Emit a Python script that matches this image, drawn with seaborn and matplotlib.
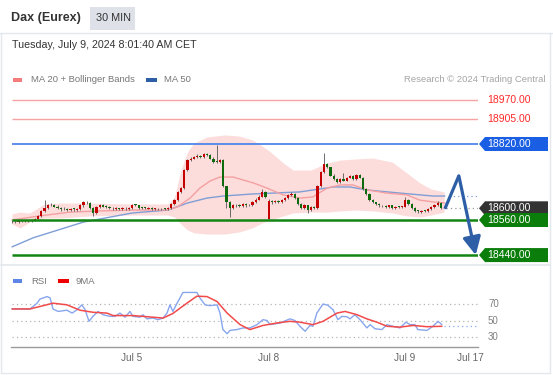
import matplotlib
matplotlib.use("Agg")
import matplotlib.pyplot as plt
from matplotlib.patches import Polygon, Rectangle
import numpy as np
import seaborn as sns

# ---- 30 min candles, left to right ----
opens = [18555, 18556, 18554, 18557, 18555, 18558, 18557, 18560, 18565, 18572,
         18590, 18600, 18610, 18612, 18606, 18600, 18596, 18598, 18594, 18597,
         18595, 18598, 18610, 18620, 18618, 18600, 18585, 18605, 18612, 18606,
         18604, 18600, 18598, 18599, 18597, 18600, 18598, 18601, 18612, 18610,
         18602, 18601, 18599, 18600, 18597, 18599, 18596, 18598, 18597, 18600,
         18615, 18628, 18655, 18668, 18730, 18765, 18770, 18775, 18780, 18776,
         18785, 18782, 18770, 18760, 18758, 18765, 18675, 18620, 18600, 18610,
         18612, 18607, 18615, 18610, 18612, 18620, 18630, 18640, 18655, 18562,
         18625, 18620, 18625, 18622, 18628, 18635, 18645, 18650, 18635, 18615,
         18600, 18610, 18595, 18605, 18600, 18675, 18725, 18752, 18740, 18712,
         18700, 18690, 18700, 18695, 18705, 18710, 18700, 18715, 18705, 18665,
         18650, 18630, 18620, 18615, 18610, 18608, 18604, 18610, 18600, 18606,
         18604, 18606, 18630, 18615, 18600, 18590, 18588, 18592, 18590, 18598,
         18605, 18612, 18618]
closes = [18556, 18554, 18557, 18555, 18558, 18557, 18560, 18565, 18572, 18590,
          18600, 18610, 18612, 18606, 18600, 18596, 18598, 18594, 18597, 18595,
          18598, 18610, 18620, 18618, 18600, 18585, 18605, 18612, 18606, 18604,
          18600, 18598, 18599, 18597, 18600, 18598, 18601, 18612, 18610, 18602,
          18601, 18599, 18600, 18597, 18599, 18596, 18598, 18597, 18600, 18615,
          18628, 18655, 18668, 18730, 18765, 18770, 18775, 18780, 18776, 18785,
          18782, 18770, 18760, 18758, 18765, 18675, 18620, 18600, 18610, 18612,
          18607, 18615, 18610, 18612, 18620, 18630, 18640, 18655, 18640, 18625,
          18620, 18625, 18622, 18628, 18635, 18645, 18650, 18635, 18615, 18600,
          18610, 18595, 18605, 18600, 18675, 18725, 18752, 18740, 18712, 18700,
          18690, 18700, 18695, 18705, 18710, 18700, 18715, 18705, 18665, 18650,
          18630, 18620, 18615, 18610, 18608, 18604, 18610, 18600, 18606, 18604,
          18606, 18630, 18615, 18600, 18590, 18588, 18592, 18590, 18598, 18605,
          18612, 18618, 18600]
highs = [18560, 18559, 18560, 18559, 18561, 18561, 18563, 18568, 18576, 18594,
         18628, 18616, 18618, 18615, 18610, 18604, 18603, 18602, 18600, 18601,
         18602, 18614, 18624, 18626, 18622, 18604, 18609, 18616, 18616, 18610,
         18608, 18603, 18603, 18602, 18603, 18603, 18604, 18616, 18615, 18612,
         18606, 18604, 18603, 18603, 18602, 18602, 18601, 18601, 18603, 18618,
         18632, 18658, 18672, 18734, 18770, 18776, 18780, 18786, 18784, 18790,
         18789, 18786, 18774, 18818, 18769, 18768, 18678, 18624, 18614, 18616,
         18615, 18619, 18618, 18616, 18624, 18634, 18644, 18665, 18658, 18632,
         18628, 18628, 18628, 18631, 18638, 18648, 18655, 18653, 18638, 18618,
         18614, 18613, 18608, 18608, 18679, 18729, 18788, 18756, 18743, 18716,
         18704, 18704, 18721, 18708, 18714, 18714, 18719, 18719, 18708, 18668,
         18653, 18633, 18623, 18618, 18613, 18611, 18613, 18613, 18609, 18609,
         18609, 18640, 18633, 18618, 18603, 18593, 18595, 18595, 18601, 18608,
         18615, 18625, 18621]
lows = [18551, 18550, 18551, 18552, 18552, 18554, 18554, 18557, 18562, 18569,
        18587, 18597, 18607, 18603, 18596, 18592, 18593, 18590, 18591, 18592,
        18592, 18595, 18606, 18615, 18596, 18575, 18582, 18602, 18603, 18601,
        18596, 18595, 18595, 18594, 18594, 18595, 18595, 18598, 18607, 18598,
        18598, 18596, 18596, 18594, 18594, 18593, 18593, 18594, 18594, 18597,
        18612, 18625, 18652, 18665, 18727, 18762, 18767, 18772, 18773, 18773,
        18779, 18767, 18756, 18754, 18755, 18672, 18600, 18570, 18597, 18606,
        18604, 18604, 18606, 18607, 18609, 18617, 18627, 18637, 18636, 18560,
        18616, 18617, 18619, 18619, 18625, 18632, 18642, 18632, 18612, 18596,
        18597, 18585, 18592, 18596, 18597, 18672, 18722, 18737, 18709, 18697,
        18686, 18687, 18692, 18692, 18702, 18697, 18697, 18702, 18662, 18646,
        18626, 18617, 18612, 18606, 18605, 18601, 18601, 18597, 18597, 18601,
        18601, 18603, 18612, 18597, 18587, 18585, 18585, 18587, 18587, 18595,
        18602, 18609, 18597]

# moving averages and Bollinger band (x = candle index)
ma20_x = [0, 8.6, 17.8, 27.1, 37.2, 47.7, 50.8, 54.8, 57.8, 60.9, 64, 68, 74.2,
          78.5, 83.4, 88.6, 92.6, 96.9, 100.9, 104.9, 109.2, 115.4, 121.5, 125.5, 129.5, 133.2]
ma20 = [18560, 18574, 18587, 18591, 18594, 18594, 18604, 18635, 18669, 18693, 18707, 18707, 18687,
        18669, 18646, 18635, 18639, 18669, 18680, 18680, 18663, 18652, 18646, 18628, 18622, 18618]
ma50_x = [0, 6.5, 22, 37, 48, 54, 60, 65, 74, 88.5, 99, 104, 109, 119.5, 129.5, 133.2]
ma50 = [18468, 18499, 18553, 18584, 18594, 18618, 18635, 18642, 18649, 18656,
        18673, 18673, 18663, 18652, 18642, 18642]
band_x = [0, 2.5, 5.5, 10, 15, 24, 36, 48, 50, 52, 54, 56, 60, 65.5, 70, 74, 77, 79.5,
          83.5, 86.5, 92, 97, 101, 106, 111, 117, 121.5, 125.5, 129, 133]
band_upper = [18581, 18587, 18584, 18615, 18618, 18618, 18615, 18615, 18639, 18731,
              18793, 18823, 18844, 18851, 18847, 18834, 18813, 18793, 18755, 18731,
              18731, 18755, 18765, 18769, 18772, 18758, 18721, 18687, 18666, 18656]
band_lower = [18546, 18533, 18553, 18567, 18567, 18574, 18577, 18577, 18570, 18546,
              18526, 18516, 18512, 18512, 18519, 18533, 18550, 18560, 18574, 18584,
              18587, 18587, 18591, 18594, 18591, 18584, 18574, 18570, 18577, 18587]

levels_red = [18970, 18905]
level_resist = 18820
level_last = 18600
levels_green = [18560, 18440]
ma50_last = 18642

arrow_x = [133.2, 137.5, 142.7]
arrow_y = [18598, 18711, 18440]

# RSI panel
rsi_x = [0, 5.5, 6.5, 7.7, 8.6, 10.8, 11.7, 12.6, 14.2, 16.9, 18.5, 20.0, 21.5, 22.5, 23.7,
         24.9, 26.5, 28.0, 30.2, 31.7, 33.2, 34.8, 36.3, 37.2, 39.4, 40.3, 41.5, 43.4, 44.9,
         46.5, 47.7, 48.6, 49.5, 50.8, 52.6, 54.8, 56.9, 57.8, 59.4, 60.9, 63.1, 64.0, 64.9,
         66.2, 67.1, 69.2, 71.1, 73.2, 75.4, 77.2, 78.5, 79.4, 82.5, 85.5, 87.1, 88.6, 90.2,
         91.7, 92.6, 93.8, 95.7, 97.2, 98.8, 100.3, 101.5, 103.1, 104.0, 105.5, 107.1, 109.2,
         110.2, 111.7, 113.8, 115.4, 117.2, 119.4, 121.2, 122.5, 124.0, 124.9, 127.7, 129.5,
         131.1, 132.3]
rsi = [64, 64, 67, 71, 76, 79, 77.5, 64, 61, 62.5, 59, 63, 69, 63, 49, 55, 61, 57, 55, 55,
       59, 54, 61, 55, 54, 57, 52, 53, 51, 53, 59, 69, 61, 71, 84, 84, 84, 77.5, 69, 68,
       69, 59, 39, 34, 38, 39, 41, 41, 45, 51, 50, 45, 47, 52, 50, 43, 37, 44, 43, 59,
       70, 68.5, 63, 51, 55, 54.5, 52, 57, 51, 41, 45, 40, 39, 45, 43, 41, 48, 45, 45, 39,
       38, 43, 49, 45]
rsi_ma_x = [0, 5.5, 8.6, 12.6, 16.9, 20.9, 24.9, 29.2, 31.1, 37.2, 43.4, 46.5, 49.5, 53.8,
            56.9, 60.0, 63.1, 66.2, 70.2, 73.2, 77.2, 81.5, 85.5, 88.6, 92.6, 95.7, 100.0,
            102.5, 106.2, 109.2, 112.3, 115.4, 119.4, 123.4, 127.7, 132.3]
rsi_ma = [64, 64, 67, 71, 69, 62.5, 60, 59, 56, 56, 54, 53, 58.5, 71, 79.5, 79, 73, 59, 45,
          39, 44, 47, 49, 48, 45, 49, 59, 61, 57, 52, 48, 43, 42, 44, 42.5, 43]
rsi_levels = [70, 50, 30]

tick_pos = [36.9, 78.8, 120.9, 140.9]
tick_labels = ["Jul 5", "Jul 8", "Jul 9", "Jul 17"]

W, H = 553, 375
sns.set_theme(style="white")
plt.rcParams["font.family"] = ["Liberation Sans", "DejaVu Sans"]

fig = plt.figure(figsize=(W / 100, H / 100), dpi=100)
fig.patch.set_facecolor("white")


def fx(px):
    return px / W


def fy(py):
    return 1 - py / H


XMIN, XMAX = -0.31, 143.4

# frame / header
border = "#e4e7eb"
fig.add_artist(plt.Line2D([0, 1], [fy(33), fy(33)], transform=fig.transFigure, color=border, lw=1))
fig.add_artist(plt.Line2D([fx(1), fx(1)], [fy(33), fy(373)], transform=fig.transFigure, color=border, lw=1))
fig.add_artist(plt.Line2D([fx(550), fx(550)], [fy(33), fy(373)], transform=fig.transFigure, color=border, lw=1))
fig.add_artist(plt.Line2D([fx(1), fx(550)], [fy(373), fy(373)], transform=fig.transFigure, color=border, lw=1))
fig.add_artist(plt.Line2D([fx(1), fx(550)], [fy(265), fy(265)], transform=fig.transFigure, color=border, lw=1.2))
fig.add_artist(Rectangle((fx(90), fy(30)), fx(45), 23 / H, transform=fig.transFigure,
                         facecolor="#dee1e7", edgecolor="none"))
fig.text(fx(11), fy(18), "Dax (Eurex)", fontsize=9, fontweight="bold", color="#333333", va="center")
fig.text(fx(96), fy(18), "30 MIN", fontsize=7.8, color="#333333", va="center")
fig.text(fx(12), fy(45), "Tuesday, July 9, 2024 8:01:40 AM CET", fontsize=7.7, color="#333333", va="center")

# legend row
fig.add_artist(Rectangle((fx(13), fy(82)), fx(9), 4 / H, transform=fig.transFigure,
                         facecolor="#f47c7c", edgecolor="none"))
fig.text(fx(31), fy(80), "MA 20 + Bollinger Bands", fontsize=6.8, color="#777777", va="center")
fig.add_artist(Rectangle((fx(146), fy(82)), fx(11), 4 / H, transform=fig.transFigure,
                         facecolor="#2f5ea8", edgecolor="none"))
fig.text(fx(164), fy(80), "MA 50", fontsize=6.8, color="#777777", va="center")
fig.text(fx(545), fy(80), "Research \u00a9 2024 Trading Central", fontsize=6.8, color="#a5a5a5",
         va="center", ha="right")

# ---- main price panel ----
ax = fig.add_axes([fx(11), fy(262), fx(478) - fx(11), (262 - 92) / H])
ax.set_xlim(XMIN, XMAX)
ax.set_ylim(18416.3, 18997.9)
ax.axis("off")

ax.fill_between(band_x, band_lower, band_upper, color="#fddcdc", lw=0, zorder=1)
sns.lineplot(x=ma50_x, y=ma50, ax=ax, color="#7f9ed6", lw=1, sort=False, zorder=2)
sns.lineplot(x=ma20_x, y=ma20, ax=ax, color="#f4a0a0", lw=1, sort=False, zorder=2)

o = np.array(opens)
c = np.array(closes)
idx = np.arange(len(c))
up = c >= o
body_col = np.where(up, "#c40000", "#0d6b0d")
ax.vlines(idx, lows, highs, color="#555555", lw=0.6, zorder=3)
height = np.where(np.abs(c - o) < 2.5, 2.5, c - o)
ax.bar(idx, height, bottom=o, width=0.72, color=body_col, lw=0, zorder=4)

ax.hlines(levels_red, 0, XMAX, color="#f7a3a3", lw=1, zorder=2)
ax.hlines(level_resist, 0, XMAX, color="#4f86ec", lw=1.3, zorder=2)
ax.hlines(levels_green, 0, XMAX, color="#128512", lw=1.8, zorder=5)
ax.hlines(level_last, 133.5, XMAX, color="#9a9a9a", lw=0.9, linestyles=(0, (1, 2.5)), zorder=2)
ax.hlines(ma50_last, 134.5, XMAX, color="#7f9ed6", lw=0.9, linestyles=(0, (1, 2.5)), zorder=2)

arrow_col = "#2d5ea6"
ax.plot(arrow_x[:2], arrow_y[:2], color=arrow_col, lw=2.3, solid_capstyle="butt", zorder=6)
ax.annotate("", xy=(arrow_x[2], arrow_y[2]), xytext=(arrow_x[1], arrow_y[1]),
            arrowprops=dict(arrowstyle="-|>,head_length=0.9,head_width=0.45",
                            color=arrow_col, lw=2.3, shrinkA=0, shrinkB=0),
            zorder=6, annotation_clip=False)


def price_to_fig(price):
    return ax.transData.transform((0, price))[1] / H


def level_box(price, color):
    yc = price_to_fig(price)
    h = 7 / H
    pts = [(fx(479), yc), (fx(485), yc + h), (fx(548), yc + h), (fx(548), yc - h), (fx(485), yc - h)]
    fig.add_artist(Polygon(pts, closed=True, transform=fig.transFigure, facecolor=color, edgecolor="none"))
    fig.text(fx(487), yc, f"{price:.2f}", fontsize=7.5, color="white", va="center", ha="left")


for lv in levels_red:
    fig.text(fx(487), price_to_fig(lv), f"{lv:.2f}", fontsize=7.5, color="#ff2a2a", va="center", ha="left")
level_box(level_resist, "#1a5fe3")
level_box(level_last, "#333333")
for lv in levels_green:
    level_box(lv, "#0a7d0a")

# ---- RSI panel ----
ax2 = fig.add_axes([fx(11), fy(347), fx(478) - fx(11), (347 - 288) / H])
ax2.set_xlim(XMIN, XMAX)
ax2.set_ylim(17.9, 89.4)
ax2.hlines(rsi_levels, 0, 143.1, color="#b5b5b5", lw=0.9, linestyles=(0, (1, 2.5)))
sns.lineplot(x=rsi_x, y=rsi, ax=ax2, color="#88a6ee", lw=1, sort=False)
sns.lineplot(x=rsi_ma_x, y=rsi_ma, ax=ax2, color="#f24a4a", lw=1.1, sort=False)
ax2.hlines(rsi[-1] - 2, rsi_x[-1] + 0.5, 143.1, color="#88a6ee", lw=0.9, linestyles=(0, (1, 2.5)))

for sp in ["top", "right", "left"]:
    ax2.spines[sp].set_visible(False)
ax2.spines["bottom"].set_color("#9a9a9a")
ax2.spines["bottom"].set_linewidth(1)
ax2.set_yticks([])
ax2.set_xticks(tick_pos)
ax2.set_xticklabels(tick_labels, fontsize=7.2, color="#666666")
ax2.tick_params(axis="x", length=0, pad=4)
ax2.set_xticks([XMIN + 0.05, XMAX - 0.6], minor=True)
ax2.tick_params(axis="x", which="minor", length=4, width=1, color="#9a9a9a", direction="out")
ax2.set_xlabel("")
ax2.set_ylabel("")
ax2.patch.set_alpha(0)

for lv in rsi_levels:
    yv = ax2.transData.transform((0, lv))[1] / H
    fig.text(fx(488), yv, str(lv), fontsize=7, color="#808080", va="center", ha="left")

# RSI legend
fig.add_artist(Rectangle((fx(13), fy(283)), fx(9), 4 / H, transform=fig.transFigure,
                         facecolor="#5f86e6", edgecolor="none"))
fig.text(fx(31), fy(281), "RSI", fontsize=6.8, color="#777777", va="center")
fig.add_artist(Rectangle((fx(58), fy(283)), fx(11), 4 / H, transform=fig.transFigure,
                         facecolor="#ee0000", edgecolor="none"))
fig.text(fx(75), fy(281), "9MA", fontsize=6.8, color="#777777", va="center")

fig.savefig("out.png", dpi=100)
